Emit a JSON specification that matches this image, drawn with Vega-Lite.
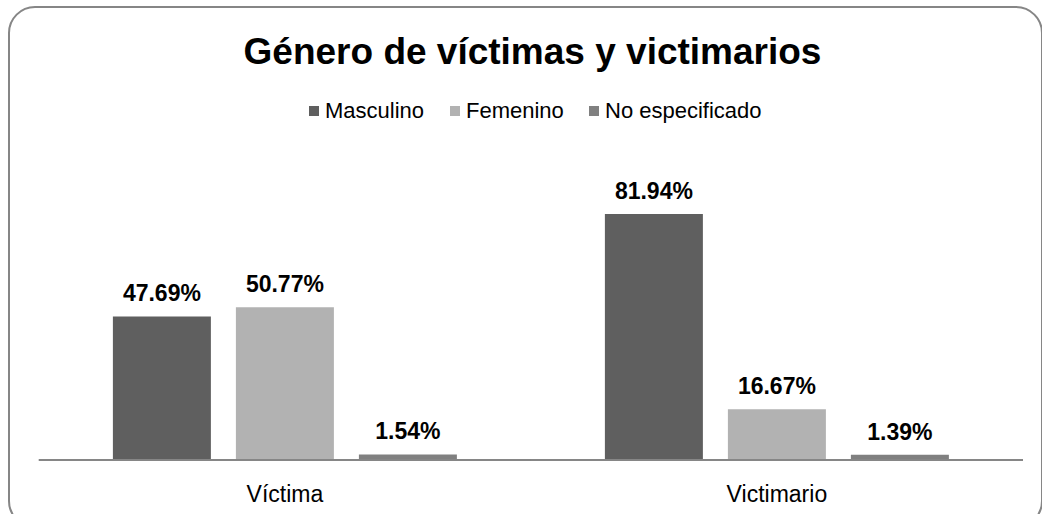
{
  "$schema": "https://vega.github.io/schema/vega-lite/v6.json",
  "width": 1033,
  "height": 520,
  "autosize": {"type": "none"},
  "padding": {"left": 9, "top": 7, "right": 0, "bottom": 0},
  "background": "white",
  "config": {
    "font": "Liberation Sans",
    "view": {"stroke": "#868686", "strokeWidth": 2, "cornerRadius": 26}
  },
  "title": {
    "text": "Género de víctimas y victimarios",
    "fontSize": 37,
    "fontWeight": "bold",
    "font": "Liberation Sans",
    "color": "#000000",
    "anchor": "middle",
    "frame": "group",
    "offset": -65,
    "dx": 7
  },
  "data": {
    "values": [
      {"grupo": "Víctima", "genero": "Masculino", "valor": 0.4769},
      {"grupo": "Víctima", "genero": "Femenino", "valor": 0.5077},
      {"grupo": "Víctima", "genero": "No especificado", "valor": 0.0154},
      {"grupo": "Victimario", "genero": "Masculino", "valor": 0.8194},
      {"grupo": "Victimario", "genero": "Femenino", "valor": 0.1667},
      {"grupo": "Victimario", "genero": "No especificado", "valor": 0.0139}
    ]
  },
  "encoding": {
    "x": {
      "field": "grupo",
      "type": "nominal",
      "sort": ["Víctima", "Victimario"],
      "scale": {"paddingInner": 0, "paddingOuter": 0.0498, "align": 0.61},
      "axis": {
        "title": null,
        "orient": "bottom",
        "offset": -68,
        "domain": false,
        "ticks": false,
        "labelAngle": 0,
        "labelPadding": 24,
        "labelFontSize": 23,
        "labelColor": "#000000",
        "labelFont": "Liberation Sans"
      }
    }
  },
  "layer": [
    {
      "mark": {"type": "rect", "color": "#868686"},
      "encoding": {
        "y": {"datum": 0, "type": "quantitative", "scale": {"domain": [-0.2274, 1.5117], "nice": false, "zero": false}, "axis": null},
        "y2": {"datum": -0.0067}
      }
    },
    {
      "mark": {"type": "bar"},
      "encoding": {
        "xOffset": {
          "field": "genero",
          "type": "nominal",
          "sort": ["Masculino", "Femenino", "No especificado"],
          "scale": {"paddingInner": 0.2033, "paddingOuter": 0.6016}
        },
        "y": {"field": "valor", "type": "quantitative", "axis": null},
        "color": {
          "field": "genero",
          "type": "nominal",
          "sort": ["Masculino", "Femenino", "No especificado"],
          "scale": {"domain": ["Masculino", "Femenino", "No especificado"], "range": ["#5f5f5f", "#b2b2b2", "#808080"]},
          "legend": {
            "title": null,
            "orient": "none",
            "legendX": 294,
            "legendY": 93,
            "direction": "horizontal",
            "symbolType": "square",
            "symbolSize": 100,
            "symbolStrokeWidth": 0,
            "labelFontSize": 22,
            "labelFont": "Liberation Sans",
            "labelColor": "#000000",
            "labelOffset": 0,
            "columnPadding": 19
          }
        }
      }
    },
    {
      "mark": {"type": "text", "fontSize": 23, "fontWeight": "bold", "baseline": "bottom", "dy": -10, "color": "#000000", "font": "Liberation Sans"},
      "encoding": {
        "xOffset": {
          "field": "genero",
          "type": "nominal",
          "sort": ["Masculino", "Femenino", "No especificado"]
        },
        "y": {"field": "valor", "type": "quantitative"},
        "text": {"field": "valor", "type": "quantitative", "format": ".2%"}
      }
    }
  ]
}
